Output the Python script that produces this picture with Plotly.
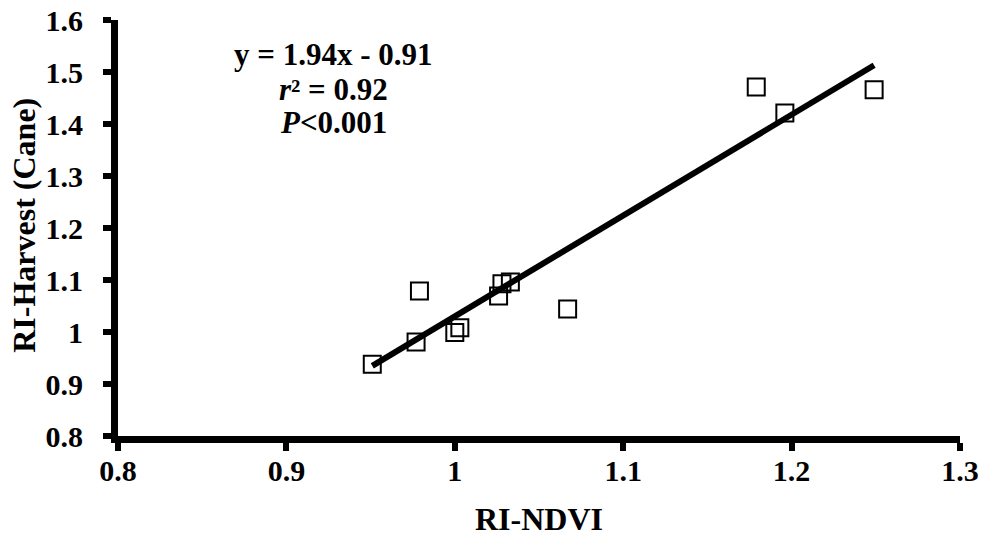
import numpy as np
import plotly.graph_objects as go

ri_ndvi = [0.951, 0.977, 0.979, 1.000, 1.003, 1.026, 1.028, 1.033, 1.067, 1.179, 1.196, 1.249]
ri_harvest = [0.938, 0.981, 1.079, 0.999, 1.008, 1.069, 1.093, 1.096, 1.044, 1.471, 1.421, 1.466]
slope, intercept = 1.94, -0.91
x_ticks = [0.8, 0.9, 1.0, 1.1, 1.2, 1.3]
x_tick_labels = ["0.8", "0.9", "1", "1.1", "1.2", "1.3"]
y_ticks = [0.8, 0.9, 1.0, 1.1, 1.2, 1.3, 1.4, 1.5, 1.6]
y_tick_labels = ["0.8", "0.9", "1", "1.1", "1.2", "1.3", "1.4", "1.5", "1.6"]

FONT = "Liberation Serif, Times New Roman, serif"

x_line = np.array([min(ri_ndvi), max(ri_ndvi)])
y_line = slope * x_line + intercept

fig = go.Figure()
fig.add_trace(go.Scatter(
    x=ri_ndvi, y=ri_harvest, mode="markers",
    marker=dict(symbol="square-open", size=17, color="black", line=dict(width=2, color="black")),
    showlegend=False, hoverinfo="skip"))
fig.add_trace(go.Scatter(
    x=x_line, y=y_line, mode="lines",
    line=dict(color="black", width=6),
    showlegend=False, hoverinfo="skip"))

tick_font = dict(family=FONT, size=30, color="black", weight="bold")
fig.update_layout(
    width=984, height=536,
    margin=dict(l=118, r=24, t=20, b=100, autoexpand=False),
    paper_bgcolor="white", plot_bgcolor="white",
    font=dict(family=FONT, size=30, color="black"),
    xaxis=dict(range=[0.8, 1.3], tickvals=x_ticks, ticktext=x_tick_labels,
               showgrid=False, zeroline=False, showline=True, linecolor="black", linewidth=7,
               ticks="outside", ticklen=8, tickwidth=6, tickcolor="black", automargin=False,
               ticklabelstandoff=-6, tickfont=tick_font),
    yaxis=dict(range=[0.8, 1.6], tickvals=y_ticks, ticktext=y_tick_labels,
               showgrid=False, zeroline=False, showline=True, linecolor="black", linewidth=7,
               ticks="outside", ticklen=8, tickwidth=6, tickcolor="black", automargin=False,
               ticklabelstandoff=14, tickfont=tick_font),
)

ann_font = dict(family=FONT, size=32, color="black", weight="bold")
eq_font = dict(family=FONT, size=31, color="black", weight="bold")
fig.add_annotation(xref="paper", yref="paper", x=0.5, y=-0.2, xanchor="center", yanchor="middle",
                   text="RI-NDVI", showarrow=False, font=ann_font)
fig.add_annotation(xref="paper", yref="paper", x=-0.112, y=0.507, xanchor="center", yanchor="middle",
                   text="RI-Harvest (Cane)", textangle=-90, showarrow=False, font=ann_font)
fig.add_annotation(xref="x", yref="y", x=0.928, y=1.533, xanchor="center", yanchor="middle",
                   text="y = 1.94x - 0.91", showarrow=False, font=eq_font)
fig.add_annotation(xref="x", yref="y", x=0.928, y=1.467, xanchor="center", yanchor="middle",
                   text="<i>r</i>² = 0.92", showarrow=False, font=eq_font)
fig.add_annotation(xref="x", yref="y", x=0.928, y=1.402, xanchor="center", yanchor="middle",
                   text="<i>P</i><0.001", showarrow=False, font=eq_font)

fig.write_html("out.html", config={"displayModeBar": False},
               post_script="document.body.style.margin='0';document.body.style.overflow='hidden';")
